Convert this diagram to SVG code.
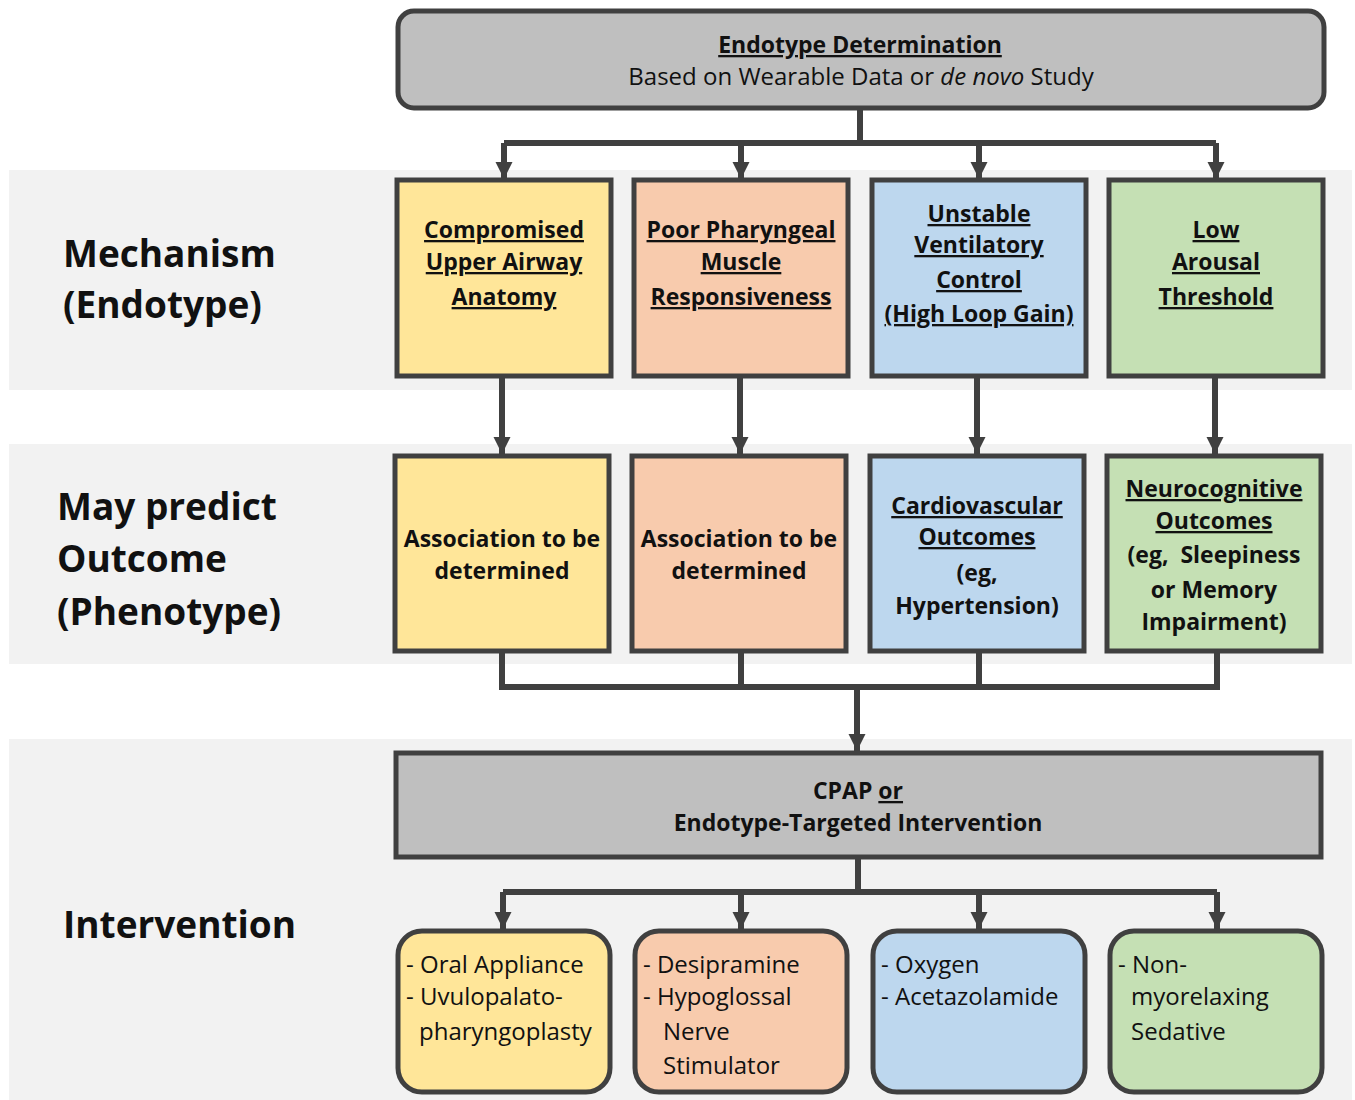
<svg xmlns="http://www.w3.org/2000/svg" width="1355" height="1100" viewBox="0 0 1355 1100">
<style>
.band{fill:#f2f2f2}
.box{stroke:#404040;stroke-width:5}
.gray{fill:#bfbfbf}
.y{fill:#ffe699}.o{fill:#f8cbad}.b{fill:#bdd7ee}.g{fill:#c5e0b4}
text{font-family:"Open Sans","DejaVu Sans",sans-serif;fill:#111}
.lab{font-size:37px;font-weight:bold}
.t{font-size:23px;font-weight:bold;text-anchor:middle}
.u{text-decoration:underline}
.r{font-size:24px}
.c{stroke:#404040;stroke-width:6;fill:none}
</style>
<defs>
<marker id="ah" markerUnits="userSpaceOnUse" markerWidth="18" markerHeight="20" refX="17" refY="10" orient="auto" viewBox="0 0 18 20">
<path d="M0,1.5 L17,10 L0,18.5 Z" fill="#404040"/>
</marker>
</defs>
<rect width="1355" height="1100" fill="#fff"/>
<rect class="band" x="9" y="170" width="1343" height="220"/>
<rect class="band" x="9" y="444" width="1343" height="220"/>
<rect class="band" x="9" y="739" width="1343" height="361"/>

<g id="labels">
<text class="lab" x="63" y="267">Mechanism</text>
<text class="lab" x="63" y="318">(Endotype)</text>
<text class="lab" x="57" y="520">May predict</text>
<text class="lab" x="57" y="572">Outcome</text>
<text class="lab" x="57" y="625">(Phenotype)</text>
<text class="lab" x="63" y="938" font-size="35.5">Intervention</text>
</g>

<g id="connectors">
<path class="c" d="M860,108 V143 M504,143 H1216"/>
<path class="c" d="M504,143 V179" marker-end="url(#ah)"/>
<path class="c" d="M741,143 V179" marker-end="url(#ah)"/>
<path class="c" d="M979,143 V179" marker-end="url(#ah)"/>
<path class="c" d="M1216,143 V179" marker-end="url(#ah)"/>
<path class="c" d="M502,376 V454" marker-end="url(#ah)"/>
<path class="c" d="M740,376 V454" marker-end="url(#ah)"/>
<path class="c" d="M977,376 V454" marker-end="url(#ah)"/>
<path class="c" d="M1215,376 V454" marker-end="url(#ah)"/>
<path class="c" d="M502,651 V687 H1217 V651 M741,651 V687 M979,651 V687"/>
<path class="c" d="M857,687 V751" marker-end="url(#ah)"/>
<path class="c" d="M858,857 V892 M503,892 H1217"/>
<path class="c" d="M503,892 V929" marker-end="url(#ah)"/>
<path class="c" d="M741,892 V929" marker-end="url(#ah)"/>
<path class="c" d="M979,892 V929" marker-end="url(#ah)"/>
<path class="c" d="M1217,892 V929" marker-end="url(#ah)"/>
</g>

<g id="top">
<rect class="box gray" x="398" y="11" width="926" height="97" rx="16"/>
<text class="t u" x="860" y="53" font-size="23.5">Endotype Determination</text>
<text class="r" x="861" y="85" text-anchor="middle" font-size="24.5">Based on Wearable Data or <tspan font-style="italic">de novo</tspan> Study</text>
</g>

<g id="m1">
<rect class="box y" x="397" y="180" width="214" height="196"/>
<text class="t u" x="504" y="238">Compromised</text>
<text class="t u" x="504" y="270">Upper Airway</text>
<text class="t u" x="504" y="305">Anatomy</text>
</g>
<g id="m2">
<rect class="box o" x="634" y="180" width="214" height="196"/>
<text class="t u" x="741" y="238">Poor Pharyngeal</text>
<text class="t u" x="741" y="270">Muscle</text>
<text class="t u" x="741" y="305">Responsiveness</text>
</g>
<g id="m3">
<rect class="box b" x="872" y="180" width="214" height="196"/>
<text class="t u" x="979" y="222">Unstable</text>
<text class="t u" x="979" y="253">Ventilatory</text>
<text class="t u" x="979" y="288">Control</text>
<text class="t u" x="979" y="322">(High Loop Gain)</text>
</g>
<g id="m4">
<rect class="box g" x="1109" y="180" width="214" height="196"/>
<text class="t u" x="1216" y="238">Low</text>
<text class="t u" x="1216" y="270">Arousal</text>
<text class="t u" x="1216" y="305">Threshold</text>
</g>

<g id="p1">
<rect class="box y" x="395" y="456" width="214" height="195"/>
<text class="t" x="502" y="547">Association to be</text>
<text class="t" x="502" y="579">determined</text>
</g>
<g id="p2">
<rect class="box o" x="632" y="456" width="214" height="195"/>
<text class="t" x="739" y="547">Association to be</text>
<text class="t" x="739" y="579">determined</text>
</g>
<g id="p3">
<rect class="box b" x="870" y="456" width="214" height="195"/>
<text class="t u" x="977" y="514">Cardiovascular</text>
<text class="t u" x="977" y="545">Outcomes</text>
<text class="t" x="977" y="581">(eg,</text>
<text class="t" x="977" y="614">Hypertension)</text>
</g>
<g id="p4">
<rect class="box g" x="1107" y="456" width="214" height="195"/>
<text class="t u" x="1214" y="497">Neurocognitive</text>
<text class="t u" x="1214" y="529">Outcomes</text>
<text class="t" x="1214" y="563" xml:space="preserve">(eg,  Sleepiness</text>
<text class="t" x="1214" y="598">or Memory</text>
<text class="t" x="1214" y="630">Impairment)</text>
</g>

<g id="cpap">
<rect class="box gray" x="396" y="753" width="925" height="104"/>
<text class="t" x="858" y="799" font-size="23.4">CPAP <tspan class="u">or</tspan></text>
<text class="t" x="858" y="831" font-size="23.4">Endotype-Targeted Intervention</text>
</g>

<g id="i1">
<rect class="box y" x="398" y="931" width="212" height="161" rx="24"/>
<text class="r" x="406" y="973">- Oral Appliance</text>
<text class="r" x="406" y="1005">- Uvulopalato-</text>
<text class="r" x="419" y="1040">pharyngoplasty</text>
</g>
<g id="i2">
<rect class="box o" x="635" y="931" width="212" height="161" rx="24"/>
<text class="r" x="643" y="973">- Desipramine</text>
<text class="r" x="643" y="1005">- Hypoglossal</text>
<text class="r" x="663" y="1040">Nerve</text>
<text class="r" x="663" y="1074">Stimulator</text>
</g>
<g id="i3">
<rect class="box b" x="873" y="931" width="212" height="161" rx="24"/>
<text class="r" x="881" y="973">- Oxygen</text>
<text class="r" x="881" y="1005">- Acetazolamide</text>
</g>
<g id="i4">
<rect class="box g" x="1110" y="931" width="212" height="161" rx="24"/>
<text class="r" x="1118" y="973">- Non-</text>
<text class="r" x="1131" y="1005">myorelaxing</text>
<text class="r" x="1131" y="1040">Sedative</text>
</g>
</svg>
